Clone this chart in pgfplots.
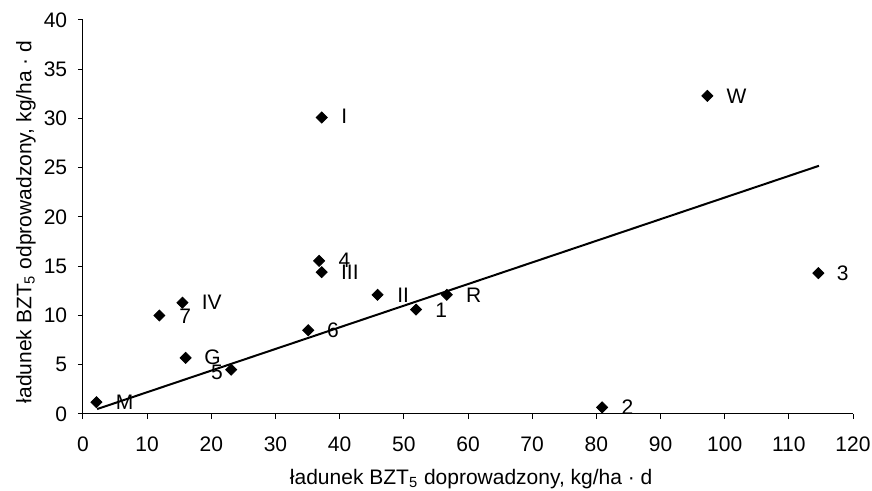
\documentclass[border=0pt]{standalone}
\usepackage{fontspec}
\setmainfont{Liberation Sans}
\usepackage{pgfplots}
\pgfplotsset{compat=1.18}
\usepackage{pgfplotstable}

\pgfplotstableread{
x     y     lab  dx    dy
2.1   1.2   M    9.5   0
23.1  4.5   5    -10.2 -1.4
16.0  5.7   G    9.2   0.4
11.9  10.0  7    9.8   -0.3
15.5  11.3  IV   9.5   0
35.1  8.5   6    9.2   0
36.8  15.55 4    9.5   0.3
37.2  14.4  III  9.5   -0.2
37.2  30.1  I    9.6   0.5
45.9  12.1  II   9.7   0
56.7  12.1  R    9.5   0
51.9  10.6  1    9.5   -0.5
80.9  0.67  2    9.5   0
97.3  32.3  W    9.5   0
114.6 14.3  3    9.0   0
}\pts

\begin{document}
\begin{tikzpicture}
\begin{axis}[
  scale only axis, width=385pt, height=197pt,
  xmin=0, xmax=120, ymin=0, ymax=40,
  xtick={0,10,...,120}, ytick={0,5,...,40},
  axis x line*=bottom, axis y line*=left,
  axis line style={black, line width=0.5pt},
  tick align=outside, major tick length=2.6pt,
  tick style={black, line width=0.5pt},
  font=\fontsize{10.5}{12}\selectfont,
  tick label style={font=\fontsize{10.5}{12}\selectfont},
  yticklabel style={xshift=-1.8pt},
  xticklabel style={yshift=-5.3pt},
  /pgf/number format/assume math mode=true,
  clip=false,
  xlabel={ładunek BZT\textsubscript{5} doprowadzony, kg/ha · d},
  ylabel={ładunek BZT\textsubscript{5} odprowadzony, kg/ha · d},
  xlabel style={at={(axis cs:60.5,-6.6)}, anchor=center},
  ylabel style={at={(axis cs:-8.9,19.5)}, anchor=center},
]
\addplot[black, line width=1pt, no marks] coordinates {(2.2,0.5) (114.7,25.2)};
\addplot[only marks, mark=square*, mark size=1.95pt,
  mark options={rotate=45, fill=black, draw=black},
  point meta=explicit symbolic,
  visualization depends on={\thisrow{dx} \as \dx},
  visualization depends on={\thisrow{dy} \as \dy},
  nodes near coords,
  nodes near coords style={anchor=west, inner sep=0pt, xshift=\dx pt, yshift=\dy pt, font=\fontsize{10.5}{12}\selectfont, text=black},
] table[x=x, y=y, meta=lab] {\pts};
\end{axis}
\pgfresetboundingbox
\path[use as bounding box] (-41.5pt,-38.5pt) rectangle (394.5pt,207pt);
\end{tikzpicture}
\end{document}
